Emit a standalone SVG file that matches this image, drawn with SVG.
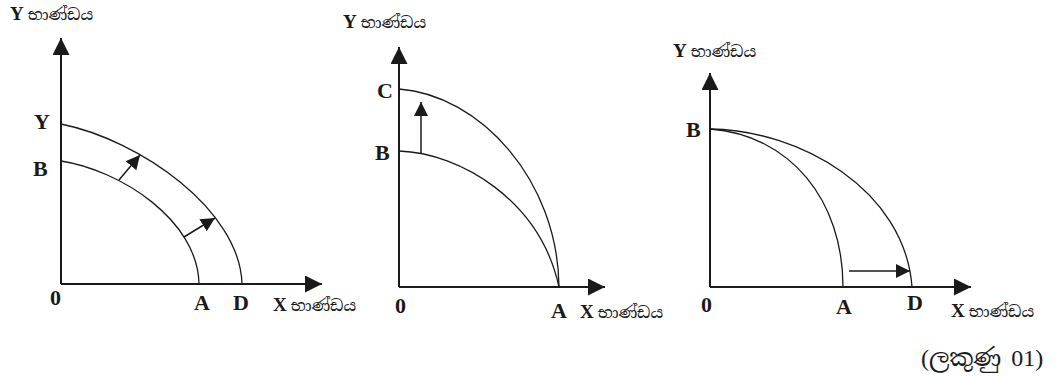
<svg xmlns="http://www.w3.org/2000/svg" width="1061" height="376" viewBox="0 0 1061 376">
<style>
.ax{stroke:#1a1a1a;stroke-width:2;fill:none}
.cv{stroke:#1a1a1a;stroke-width:1.3;fill:none}
.ar{stroke:#1a1a1a;stroke-width:1.5;fill:none}
.lb{font-family:"Liberation Serif","Times New Roman",serif;font-weight:bold;font-size:22px;fill:#1a1a1a}
.tb{font-family:"Liberation Serif","Times New Roman",serif;font-weight:bold;font-size:19px;fill:#1a1a1a}
.si{font-family:"Noto Serif Sinhala","Noto Sans Sinhala","Liberation Serif",serif;font-weight:normal;font-size:16px;fill:#1a1a1a}
.nt{font-family:"Liberation Serif","Noto Serif Sinhala","Noto Sans Sinhala",serif;font-size:24px;fill:#1a1a1a;word-spacing:4px}
</style>
<defs>
<marker id="axh" markerUnits="userSpaceOnUse" markerWidth="17" markerHeight="17" refX="17" refY="8.5" orient="auto"><path d="M0,0 L17,8.5 L0,17 z" fill="#1a1a1a"/></marker>
<marker id="smh" markerUnits="userSpaceOnUse" markerWidth="14" markerHeight="14" refX="14" refY="7" orient="auto"><path d="M0,0 L14,7 L0,14 z" fill="#1a1a1a"/></marker>
</defs>
<g id="connectors">
<!-- graph 1 -->
<path class="ax" d="M61,284 L61,38" marker-end="url(#axh)"/>
<path class="ax" d="M61,284 L322,284" marker-end="url(#axh)"/>
<path class="cv" d="M61,124 C140,140 240,210 242,284"/>
<path class="cv" d="M61,161 C120,170 198,220 199,284"/>
<path class="ar" d="M119,180 L140,155" marker-end="url(#smh)"/>
<path class="ar" d="M184,237 L215,218" marker-end="url(#smh)"/>
<!-- graph 2 -->
<path class="ax" d="M399,287 L399,47" marker-end="url(#axh)"/>
<path class="ax" d="M399,287 L605,287" marker-end="url(#axh)"/>
<path class="cv" d="M399,89 C480,95 558,180 559,287"/>
<path class="cv" d="M399,151 C460,153 540,200 559,287"/>
<path class="ar" d="M421,153 L421,102" marker-end="url(#smh)"/>
<!-- graph 3 -->
<path class="ax" d="M710,287 L710,73" marker-end="url(#axh)"/>
<path class="ax" d="M710,287 L971,287" marker-end="url(#axh)"/>
<path class="cv" d="M710,129 C790,135 843,200 843,287"/>
<path class="cv" d="M710,129 C800,130 905,190 912,287"/>
<path class="ar" d="M849,271 L910,271" marker-end="url(#smh)"/>
</g>
<g id="graph1-labels">
<text x="10" y="20" class="tb">Y<tspan class="si" dx="4">භාණ්ඩය</tspan></text>
<text x="34" y="129" class="lb">Y</text>
<text x="33" y="176" class="lb">B</text>
<text x="50" y="305" class="lb">0</text>
<text x="194" y="310" class="lb">A</text>
<text x="233" y="310" class="lb">D</text>
<text x="273" y="311" class="tb">X<tspan class="si" dx="4">භාණ්ඩය</tspan></text>
</g>
<g id="graph2-labels">
<text x="343" y="28" class="tb">Y<tspan class="si" dx="4">භාණ්ඩය</tspan></text>
<text x="377" y="98" class="lb">C</text>
<text x="375" y="160" class="lb">B</text>
<text x="395" y="313" class="lb">0</text>
<text x="551" y="318" class="lb">A</text>
<text x="580" y="318" class="tb">X<tspan class="si" dx="4">භාණ්ඩය</tspan></text>
</g>
<g id="graph3-labels">
<text x="673" y="57" class="tb">Y<tspan class="si" dx="4">භාණ්ඩය</tspan></text>
<text x="686" y="137" class="lb">B</text>
<text x="701" y="312" class="lb">0</text>
<text x="836" y="314" class="lb">A</text>
<text x="907" y="310" class="lb">D</text>
<text x="951" y="317" class="tb">X<tspan class="si" dx="4">භාණ්ඩය</tspan></text>
</g>
<g id="note">
<text x="921" y="366" class="nt">(ලකුණු 01)</text>
</g>
</svg>
